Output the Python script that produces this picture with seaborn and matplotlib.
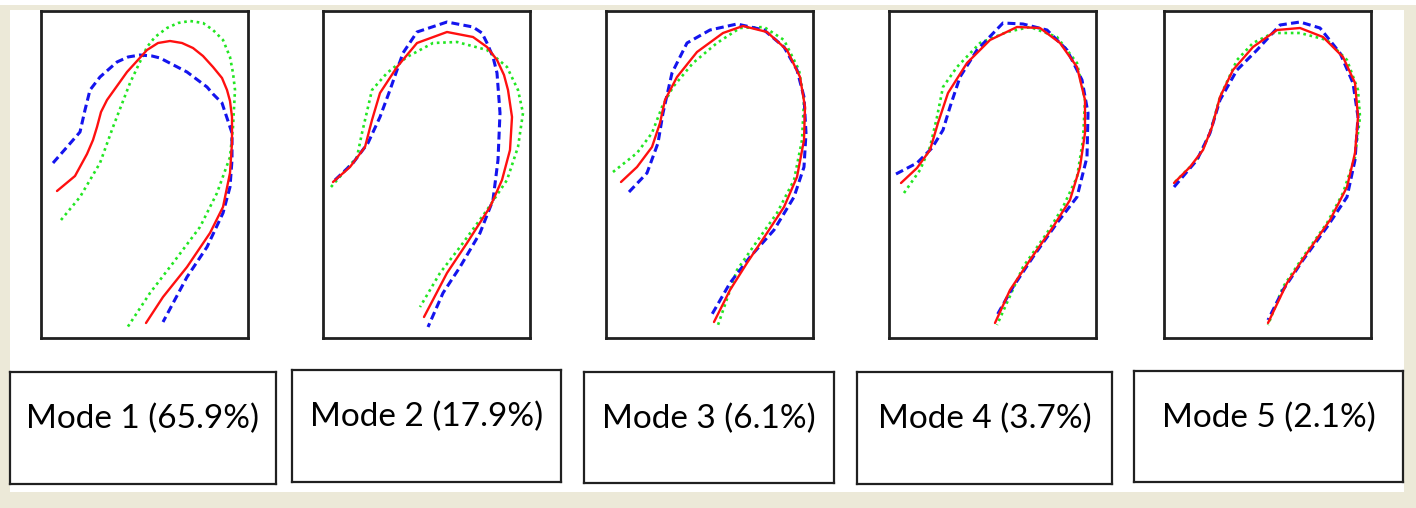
import numpy as np
import pandas as pd
import matplotlib
matplotlib.use('Agg')
import matplotlib.pyplot as plt
from matplotlib.patches import Rectangle
import seaborn as sns

# Curve points, in pixels inside each panel box (x right, y down)
MODE1_MEAN = [(16, 180), (34, 165), (46, 143), (52, 129), (56, 116), (60, 101), (66, 89), (86, 61),
              (106, 39), (117, 32), (129, 30), (141, 32), (152, 37), (162, 45), (172, 56), (181, 67),
              (186, 79), (189, 90), (191, 106), (191, 132), (189, 162), (182, 196), (169, 222),
              (146, 256), (122, 286), (105, 312)]
MODE1_DASH = [(12, 152), (26, 136), (39, 121), (44, 99), (49, 79), (59, 66), (76, 51), (87, 46),
              (99, 44), (111, 45), (119, 47), (146, 61), (166, 76), (172, 83), (181, 92), (191, 122),
              (191, 136), (191, 149), (189, 176), (182, 202), (166, 236), (146, 266), (122, 311)]
MODE1_DOT = [(20, 209), (39, 186), (59, 152), (72, 116), (89, 72), (106, 36), (114, 26), (126, 17),
             (137, 12), (149, 10), (162, 12), (172, 19), (182, 29), (189, 46), (192, 62), (194, 79),
             (192, 116), (189, 146), (176, 182), (159, 216), (132, 252), (109, 282), (86, 317)]

MODE2_MEAN = [(10, 171), (27, 156), (42, 136), (49, 109), (57, 82), (74, 56), (94, 32), (124, 21),
              (150, 26), (164, 36), (174, 49), (181, 64), (185, 79), (189, 106), (187, 139),
              (179, 169), (167, 196), (144, 232), (124, 262), (101, 306)]
MODE2_DASH = [(12, 169), (30, 152), (45, 132), (57, 106), (67, 79), (80, 42), (94, 21), (124, 11),
              (150, 16), (159, 22), (164, 32), (170, 46), (174, 62), (177, 102), (175, 149),
              (170, 189), (157, 222), (137, 256), (120, 282), (105, 316)]
MODE2_DOT = [(8, 176), (34, 146), (39, 122), (49, 79), (64, 62), (84, 46), (110, 32), (134, 31),
             (164, 39), (184, 56), (195, 79), (200, 102), (195, 136), (184, 169), (164, 199),
             (137, 236), (117, 262), (97, 296)]

MODE3_MEAN = [(15, 171), (31, 156), (46, 136), (54, 112), (59, 89), (71, 66), (91, 41), (117, 22),
              (137, 15), (161, 21), (181, 39), (194, 66), (199, 96), (198, 129), (191, 166),
              (178, 196), (161, 222), (141, 252), (124, 279), (108, 311)]
MODE3_DASH = [(23, 181), (41, 162), (52, 132), (57, 102), (66, 62), (81, 32), (104, 19), (131, 13),
              (158, 19), (178, 36), (191, 59), (198, 86), (200, 122), (198, 156), (188, 186),
              (168, 219), (144, 246), (124, 272), (105, 305)]
MODE3_DOT = [(7, 161), (31, 142), (46, 122), (56, 96), (67, 76), (87, 52), (111, 32), (134, 17),
             (158, 16), (178, 29), (193, 59), (198, 89), (196, 129), (188, 169), (171, 202),
             (154, 226), (131, 259), (112, 314)]

MODE4_MEAN = [(12, 172), (28, 157), (41, 139), (49, 112), (59, 82), (78, 52), (101, 29), (128, 16),
              (151, 17), (171, 32), (188, 56), (196, 89), (196, 122), (191, 156), (181, 189),
              (164, 216), (141, 249), (121, 279), (106, 312)]
MODE4_DASH = [(7, 163), (28, 152), (43, 137), (54, 119), (61, 96), (71, 66), (88, 39), (114, 12),
              (134, 13), (158, 19), (178, 39), (193, 69), (199, 102), (198, 146), (188, 186),
              (168, 212), (144, 246), (124, 276), (107, 306)]
MODE4_DOT = [(15, 182), (31, 159), (41, 136), (48, 106), (54, 76), (68, 56), (91, 32), (118, 21),
             (141, 16), (168, 26), (188, 52), (196, 89), (194, 129), (188, 166), (174, 196),
             (158, 222), (134, 256), (108, 314)]

MODE5_MEAN = [(10, 172), (26, 156), (39, 139), (48, 116), (56, 86), (69, 59), (89, 36), (113, 19),
              (136, 17), (159, 26), (179, 46), (191, 72), (194, 106), (191, 142), (183, 176),
              (166, 209), (143, 242), (123, 272), (104, 312)]
MODE5_DASH = [(10, 176), (33, 149), (46, 122), (56, 89), (73, 59), (93, 39), (116, 14), (136, 11),
              (156, 17), (176, 42), (189, 72), (194, 106), (191, 149), (183, 186), (163, 216),
              (139, 249), (119, 279), (104, 309)]
MODE5_DOT = [(11, 171), (33, 149), (46, 122), (56, 86), (73, 49), (89, 32), (109, 22), (136, 22),
             (163, 29), (183, 49), (194, 79), (196, 106), (191, 146), (179, 182), (163, 212),
             (139, 246), (119, 276), (104, 314)]

MODE_LABELS = ['Mode 1 (65.9%)', 'Mode 2 (17.9%)', 'Mode 3 (6.1%)', 'Mode 4 (3.7%)', 'Mode 5 (2.1%)']

curves = [
    (MODE1_MEAN, MODE1_DASH, MODE1_DOT),
    (MODE2_MEAN, MODE2_DASH, MODE2_DOT),
    (MODE3_MEAN, MODE3_DASH, MODE3_DOT),
    (MODE4_MEAN, MODE4_DASH, MODE4_DOT),
    (MODE5_MEAN, MODE5_DASH, MODE5_DOT),
]

sns.set_style('white')

W, H = 1416, 508
fig = plt.figure(figsize=(W / 100, H / 100), dpi=100, facecolor='white')

# window background (beige frame with white inside)
fig.patches.append(Rectangle((0, 0), W, H - 5, transform=None, facecolor='#ECE9D8',
                             edgecolor='none', zorder=-10))
fig.patches.append(Rectangle((10, H - 492), 1394, 482, transform=None, facecolor='white',
                             edgecolor='none', zorder=-9))


def add_ax(x0, x1, top, bottom):
    return fig.add_axes([x0 / W, (H - bottom) / H, (x1 - x0) / W, (bottom - top) / H])


panel_left = [41, 323, 606, 889, 1164]
panel_w = 207
panel_h = 327

styles = [
    dict(color='#FF1010', lw=1.7, linestyle='-'),
    dict(color='#1414EE', lw=2.2, linestyle=(0, (2.6, 1.4))),
    dict(color='#22E622', lw=1.9, linestyle=(0, (1.0, 1.4))),
]

for left, trio in zip(panel_left, curves):
    ax = add_ax(left, left + panel_w, 11, 11 + panel_h)
    ax.set_facecolor('white')
    # draw dotted, dashed, then mean on top
    for pts, st in zip(trio[::-1], styles[::-1]):
        df = pd.DataFrame(pts, columns=['x', 'y'])
        sns.lineplot(data=df, x='x', y='y', sort=False, estimator=None, ax=ax, **st)
    ax.set_xlim(0, panel_w)
    ax.set_ylim(panel_h, 0)
    ax.set_xticks([])
    ax.set_yticks([])
    ax.set_xlabel('')
    ax.set_ylabel('')
    for sp in ax.spines.values():
        sp.set_visible(True)
        sp.set_color('#202020')
        sp.set_linewidth(2.0)

# label boxes
boxes = [(10, 276, 372, 484), (292, 561, 370, 482), (584, 834, 372, 483),
         (857, 1112, 372, 484), (1134, 1403, 371, 482)]
for (x0, x1, t, b), lab in zip(boxes, MODE_LABELS):
    ax = add_ax(x0, x1, t, b)
    ax.set_xticks([])
    ax.set_yticks([])
    ax.set_facecolor('white')
    for sp in ax.spines.values():
        sp.set_visible(True)
        sp.set_color('#202020')
        sp.set_linewidth(1.6)
    ax.text(0.5, 0.58, lab, ha='center', va='center', transform=ax.transAxes,
            fontsize=24, family=['Lato', 'DejaVu Sans'], color='black')

fig.savefig('out.png', dpi=100, facecolor='white')
